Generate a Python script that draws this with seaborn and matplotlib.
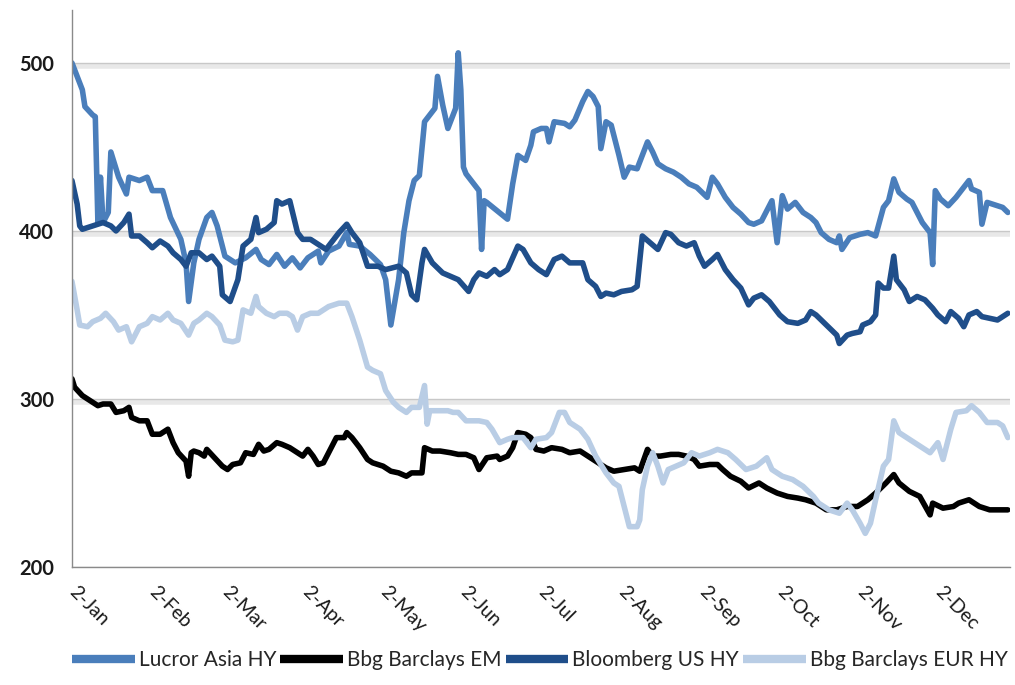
import matplotlib
matplotlib.use("Agg")
import matplotlib.pyplot as plt
import matplotlib.patheffects as pe
import matplotlib.transforms as mtransforms
import numpy as np
import pandas as pd
import seaborn as sns

START = "2019-01-02"
YEAR = "2019"

series_names = ["Lucror Asia HY", "Bbg Barclays EM", "Bloomberg US HY", "Bbg Barclays EUR HY"]
series_colors = ["#4A7EBB", "#000000", "#1F4E8A", "#B9CDE5"]

tick_labels = ["2-Jan", "2-Feb", "2-Mar", "2-Apr", "2-May", "2-Jun",
               "2-Jul", "2-Aug", "2-Sep", "2-Oct", "2-Nov", "2-Dec"]
y_ticks = [200, 300, 400, 500]

# day offsets from 2-Jan and spread levels (bp)
lucror_days = [0, 2, 4, 5, 8, 9, 10, 11, 12, 14, 15, 18, 21, 22, 26, 29, 31, 35, 38, 42,
               44, 45, 47, 49, 52, 54, 56, 57, 59, 63, 67, 71, 73, 76, 79, 82, 85, 88, 91, 95,
               96, 99, 103, 106, 107, 111, 115, 119, 121, 123, 126, 128, 130, 132, 134, 135, 136, 139, 140, 141,
               143, 145, 148, 149, 150, 151, 152, 155, 157, 158, 159, 160, 164, 168, 170, 172, 175, 177, 178, 181,
               183, 184, 186, 190, 192, 194, 197, 199, 201, 203, 204, 206, 208, 211, 213, 215, 218, 222, 224, 226,
               229, 232, 235, 238, 241, 245, 247, 249, 252, 255, 258, 261, 263, 266, 268, 270, 272, 274, 276, 279,
               282, 285, 287, 289, 292, 295, 296, 297, 300, 304, 307, 310, 313, 315, 317, 319, 322, 324, 328, 331,
               332, 333, 335, 338, 341, 344, 346, 347, 350, 351, 353, 357, 359, 361]
lucror_vals = [500, 492, 484, 474, 469, 468, 405, 432, 405, 411, 447, 432, 422, 432, 430, 432, 424, 424, 408, 395,
               381, 358, 381, 395, 408, 411, 403, 397, 385, 381, 384, 389, 383, 380, 386, 379, 384, 378, 384, 388,
               381, 388, 391, 399, 392, 391, 386, 380, 371, 344, 371, 399, 418, 430, 433, 449, 465, 471, 473, 492,
               475, 461, 473, 506, 484, 438, 434, 428, 424, 389, 418, 417, 412, 407, 428, 445, 442, 451, 459, 461,
               461, 453, 465, 464, 462, 466, 477, 483, 480, 474, 449, 465, 463, 445, 432, 438, 437, 453, 447, 440,
               437, 435, 432, 428, 426, 420, 432, 428, 420, 414, 410, 405, 404, 406, 412, 418, 393, 421, 413, 417,
               411, 408, 405, 399, 395, 393, 397, 389, 396, 398, 399, 397, 414, 418, 431, 423, 419, 417, 405, 399,
               380, 424, 419, 415, 420, 426, 430, 425, 423, 404, 417, 415, 414, 411]

em_days = [0, 1, 4, 6, 10, 12, 15, 17, 20, 22, 23, 26, 29, 31, 34, 37, 39, 41, 44, 45,
           46, 47, 49, 51, 52, 55, 58, 60, 62, 65, 67, 70, 72, 74, 76, 79, 81, 84, 87, 89,
           91, 93, 95, 97, 100, 102, 105, 106, 108, 111, 114, 116, 120, 123, 126, 129, 131, 135, 136, 139,
           142, 146, 149, 152, 155, 157, 160, 164, 165, 168, 170, 172, 175, 177, 179, 182, 185, 189, 192, 196,
           199, 202, 206, 209, 213, 217, 219, 222, 224, 227, 231, 234, 237, 240, 242, 246, 249, 251, 254, 258,
           261, 265, 268, 272, 276, 280, 283, 287, 291, 295, 299, 303, 307, 310, 314, 317, 319, 323, 327, 331,
           332, 336, 340, 342, 346, 350, 354, 358, 361]
em_vals = [312, 307, 302, 300, 296, 297, 297, 292, 293, 295, 289, 287, 287, 279, 279, 282, 274, 268, 263, 254,
           268, 269, 268, 266, 270, 265, 260, 258, 261, 262, 268, 267, 273, 269, 270, 274, 273, 271, 268, 266,
           270, 266, 261, 262, 271, 277, 277, 280, 277, 271, 264, 262, 260, 257, 256, 254, 256, 256, 271, 269,
           269, 268, 267, 267, 265, 258, 265, 266, 264, 266, 271, 280, 279, 277, 270, 269, 271, 270, 268, 269,
           266, 263, 259, 257, 258, 259, 257, 270, 266, 266, 267, 267, 266, 264, 260, 261, 261, 258, 254, 251,
           247, 250, 247, 244, 242, 241, 240, 238, 234, 234, 236, 236, 240, 244, 250, 255, 250, 245, 242, 231,
           238, 235, 236, 238, 240, 236, 234, 234, 234]

us_days = [0, 1, 2, 3, 4, 8, 12, 15, 17, 20, 22, 23, 26, 29, 31, 34, 37, 39, 42, 44,
           46, 49, 52, 54, 57, 58, 61, 64, 66, 69, 71, 72, 75, 78, 79, 81, 84, 87, 89, 92,
           96, 98, 101, 103, 106, 108, 111, 114, 118, 121, 126, 129, 131, 133, 135, 136, 139, 143, 146, 149,
           153, 155, 157, 160, 163, 165, 168, 172, 174, 177, 180, 183, 186, 189, 192, 197, 199, 202, 204, 206,
           209, 212, 216, 218, 220, 223, 226, 229, 231, 234, 237, 240, 242, 244, 247, 249, 252, 255, 258, 261,
           263, 266, 269, 273, 276, 280, 283, 285, 287, 291, 295, 296, 299, 301, 304, 305, 308, 310, 311, 313,
           315, 317, 318, 321, 323, 326, 329, 332, 334, 337, 339, 342, 344, 346, 349, 351, 354, 357, 359, 361]
us_vals = [430, 423, 416, 403, 401, 403, 405, 403, 400, 405, 410, 397, 397, 393, 390, 394, 391, 387, 383, 379,
           387, 387, 383, 385, 379, 362, 358, 371, 391, 395, 408, 399, 401, 405, 418, 416, 418, 399, 395, 395,
           391, 389, 395, 399, 404, 399, 393, 379, 379, 377, 379, 375, 362, 359, 381, 389, 381, 375, 373, 371,
           364, 371, 375, 373, 377, 374, 377, 391, 389, 381, 377, 374, 383, 385, 381, 381, 371, 367, 361, 363,
           362, 364, 365, 367, 397, 393, 389, 399, 398, 393, 391, 393, 385, 379, 383, 386, 377, 371, 366, 356,
           360, 362, 358, 350, 346, 345, 347, 352, 350, 344, 338, 333, 338, 339, 340, 344, 346, 350, 369, 366,
           366, 385, 371, 365, 358, 361, 359, 354, 350, 346, 352, 348, 343, 350, 352, 349, 348, 347, 349, 351]

eur_days = [0, 2, 3, 6, 8, 11, 13, 16, 18, 21, 23, 26, 29, 31, 34, 37, 39, 42, 45, 47,
            49, 52, 54, 57, 59, 62, 64, 66, 69, 71, 72, 75, 78, 80, 83, 85, 87, 89, 92, 95,
            97, 99, 103, 106, 108, 111, 114, 116, 119, 121, 124, 126, 129, 131, 134, 136, 137, 138, 141, 145,
            147, 149, 152, 155, 157, 160, 162, 165, 168, 170, 174, 177, 179, 183, 185, 188, 190, 192, 196, 199,
            202, 206, 209, 211, 213, 215, 218, 219, 220, 222, 224, 226, 228, 230, 233, 236, 239, 242, 246, 249,
            253, 256, 260, 264, 268, 270, 274, 278, 282, 286, 288, 292, 296, 299, 301, 304, 306, 308, 310, 313,
            315, 317, 319, 323, 327, 331, 334, 336, 339, 341, 345, 347, 350, 353, 357, 359, 361]
eur_vals = [370, 353, 344, 343, 346, 348, 351, 346, 341, 343, 334, 343, 345, 349, 347, 351, 347, 345, 338, 345,
            347, 351, 349, 344, 335, 334, 335, 353, 351, 361, 355, 351, 349, 351, 351, 349, 341, 349, 351, 351,
            353, 355, 357, 357, 349, 335, 319, 317, 315, 305, 298, 295, 292, 295, 295, 308, 285, 293, 293, 293,
            292, 292, 287, 287, 287, 286, 282, 274, 276, 277, 277, 271, 276, 277, 280, 292, 292, 286, 282, 276,
            266, 256, 250, 248, 236, 224, 224, 228, 246, 260, 268, 260, 250, 258, 260, 262, 268, 266, 268, 270,
            268, 264, 258, 260, 265, 258, 254, 252, 248, 242, 238, 234, 232, 238, 234, 226, 220, 226, 240, 260,
            264, 287, 280, 276, 272, 268, 274, 264, 282, 292, 293, 296, 292, 286, 286, 284, 277]


def frame(name, days, vals):
    return pd.DataFrame({
        "date": pd.Timestamp(START) + pd.to_timedelta(days, unit="D"),
        "value": vals,
        "series": name,
    })


df = pd.concat([
    frame(series_names[0], lucror_days, lucror_vals),
    frame(series_names[1], em_days, em_vals),
    frame(series_names[2], us_days, us_vals),
    frame(series_names[3], eur_days, eur_vals),
], ignore_index=True)

sns.set_theme(style="white")
plt.rcParams["font.family"] = ["Lato", "DejaVu Sans"]

fig = plt.figure(figsize=(10.15, 6.85), dpi=100)
ax = fig.add_axes([0.0709, 0.1723, 0.9241, 0.8131])

palette = dict(zip(series_names, series_colors))
sns.lineplot(data=df, x="date", y="value", hue="series", hue_order=series_names,
             palette=palette, estimator=None, sort=False, linewidth=4.0, ax=ax, legend=True)
for ln in ax.get_lines():
    ln.set_solid_joinstyle("round")
    ln.set_solid_capstyle("round")

tick_dates = pd.to_datetime([t + "-" + YEAR for t in tick_labels], format="%d-%b-%Y")
ax.set_xlim(pd.Timestamp(START), pd.Timestamp(START) + pd.Timedelta(days=361.8))
ax.set_xticks(tick_dates)
ax.set_xticklabels(tick_labels, rotation=-45, ha="left", va="center", rotation_mode="anchor")
shift = mtransforms.ScaledTranslation(3 / 72, 0, fig.dpi_scale_trans)
for lab in ax.get_xticklabels():
    lab.set_transform(lab.get_transform() + shift)
ax.set_ylim(200, 531.5)
ax.set_yticks(y_ticks)
ax.set_yticklabels([str(v) for v in y_ticks])
ax.set_xlabel("")
ax.set_ylabel("")

for s in ["top", "right"]:
    ax.spines[s].set_visible(False)
for s in ["left", "bottom"]:
    ax.spines[s].set_color("#8a8a8a")
    ax.spines[s].set_linewidth(1.0)

ax.tick_params(axis="both", direction="out", length=5, width=1, color="#8a8a8a",
               labelcolor="#1a1a1a")
ax.tick_params(axis="y", pad=8, labelsize=14.5)
ax.tick_params(axis="x", pad=11, labelsize=14)
for lab in ax.get_yticklabels():
    lab.set_fontweight("bold")

ax.set_axisbelow(True)
ax.yaxis.grid(True, color="#c8c8c8", linewidth=1.0)
for gl in ax.get_ygridlines():
    gl.set_path_effects([pe.SimpleLineShadow(offset=(0, -2.0), shadow_color="#e6e6e6",
                                             alpha=0.9, rho=1, linewidth=4),
                         pe.Normal()])

handles, labels = ax.get_legend_handles_labels()
ax.get_legend().remove()
leg = fig.legend(handles, labels, loc="lower center", bbox_to_anchor=(0.532, -0.006), ncol=4,
                 frameon=False, handlelength=3.0, handletextpad=0.2, columnspacing=0.2,
                 fontsize=15)
for line in leg.get_lines():
    line.set_linewidth(6)
    line.set_solid_capstyle("butt")

fig.savefig("out.png", dpi=100)
